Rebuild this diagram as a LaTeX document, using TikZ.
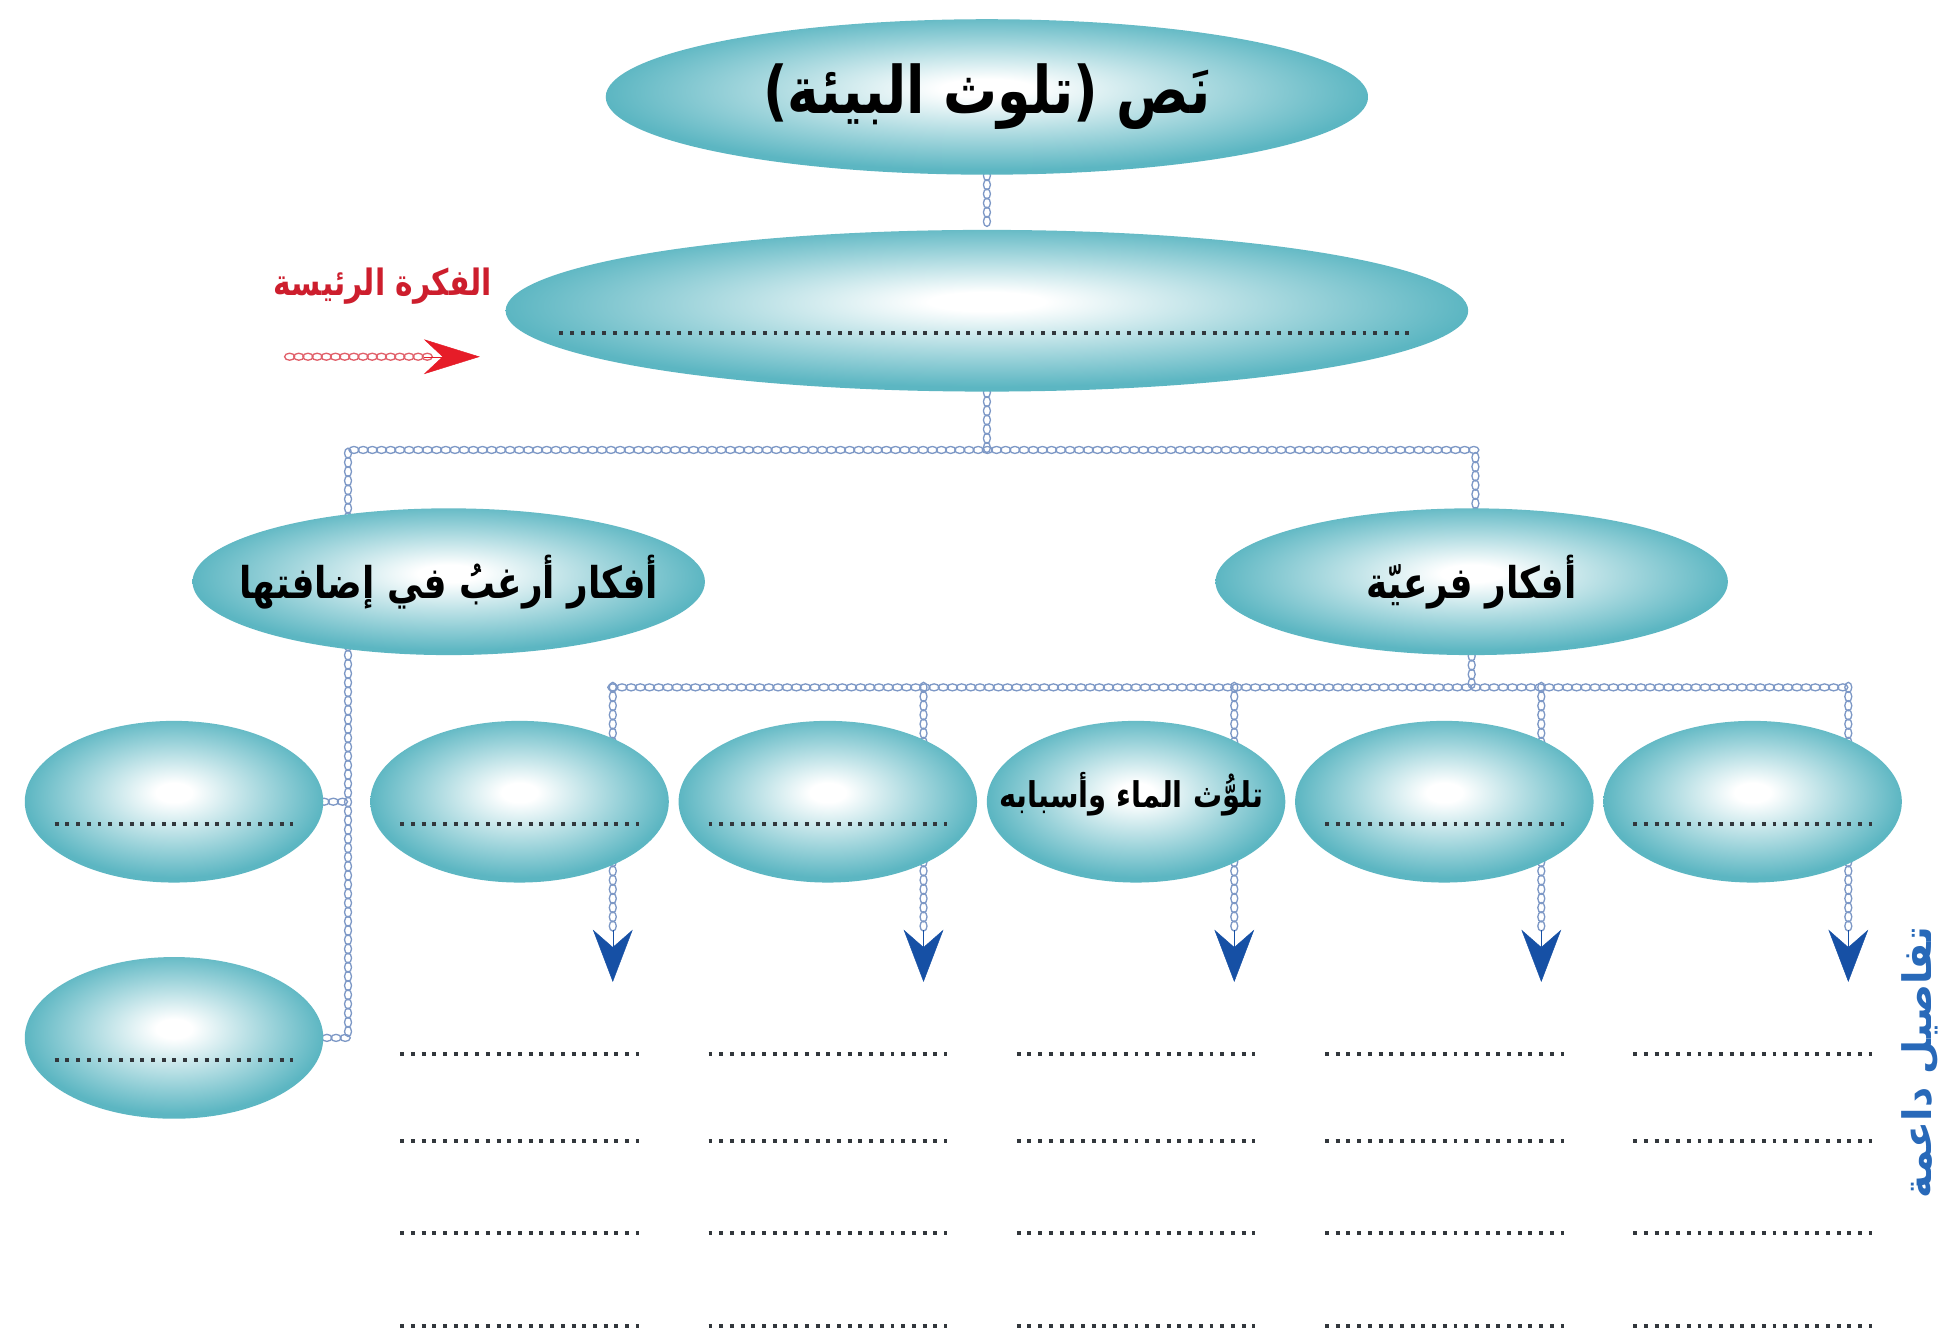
\documentclass[tikz,border=0pt]{standalone}
\usepackage{fontspec}
\usetikzlibrary{shapes.geometric,decorations.markings,arrows.meta,calc}
\TeXXeTstate=1
\newfontfamily\arabicfont[Script=Arabic, FakeStretch=0.82]{DejaVu Sans}
\newfontfamily\arabicplain[Script=Arabic]{DejaVu Sans}
\definecolor{ovaledge}{RGB}{92,182,194}
\definecolor{ovalmid}{RGB}{158,212,219}
\definecolor{chainblue}{RGB}{125,152,198}
\definecolor{chainred}{RGB}{225,95,105}
\definecolor{headred}{RGB}{230,28,40}
\definecolor{headblue}{RGB}{22,80,165}
\definecolor{labelblue}{RGB}{40,105,185}
\definecolor{labelred}{RGB}{205,30,45}
\definecolor{dotgray}{RGB}{50,55,60}
\pgfdeclareradialshading{ovalshade}{\pgfpoint{0bp}{3bp}}{color(0bp)=(white); color(3bp)=(white); color(16bp)=(ovalmid); color(25bp)=(ovaledge); color(50bp)=(ovaledge)}
\pgfdeclarelayer{background}
\pgfsetlayers{background,main}
\newcommand\ttlfont{\arabicfont\bfseries\fontsize{15}{17}\selectfont}
\newcommand\midfont{\arabicfont\bfseries\fontsize{10}{12}\selectfont}
\newcommand\smlfont{\arabicfont\bfseries\fontsize{8.1}{10}\selectfont}
\newcommand\redfont{\arabicfont\bfseries\fontsize{8.3}{10}\selectfont}
\newcommand\sidefont{\arabicplain\bfseries\fontsize{9}{11}\selectfont}
\tikzset{
  oval/.style={ellipse, inner sep=0pt, shading=ovalshade, draw=none},
  bigoval/.style={oval, minimum width=2.4cm, minimum height=1.3cm},
  ovaltext/.style={inner sep=0pt, text=black},
  chain/.style={decoration={markings, mark=between positions 0 and 1 step 2.1pt with {\draw[#1, line width=0.3pt] (0,0) ellipse (1.15pt and 0.8pt);}}, decorate},
  chain/.default=chainblue,
  dotline/.style={draw=dotgray, line width=0.9pt, dash pattern=on 0.9pt off 1.55pt},
  bluehead/.style={draw=headblue, line width=0.1pt, -{Stealth[length=0.42cm, width=0.32cm, inset=0.14cm, fill=headblue]}},
  redhead/.style={draw=headred, line width=0.1pt, -{Stealth[length=0.45cm, width=0.28cm, inset=0.15cm, fill=headred]}},
}
\begin{document}
\begin{tikzpicture}[x=0.01cm, y=-0.01cm]
\useasboundingbox (0,0) rectangle (1568,1076);
% ovals
\node[oval, minimum width=6.13cm, minimum height=1.25cm] (top) at (794,78) {};
\node[oval, minimum width=7.74cm, minimum height=1.30cm] (main) at (794,250) {};
\node[oval, minimum width=4.12cm, minimum height=1.18cm] (want) at (361,468) {};
\node[oval, minimum width=4.12cm, minimum height=1.18cm] (sub) at (1184,468) {};
\node[bigoval] (r1) at (418,645) {};
\node[bigoval] (r2) at (666,645) {};
\node[bigoval] (r3) at (914,645) {};
\node[bigoval] (r4) at (1162,645) {};
\node[bigoval] (r5) at (1410,645) {};
\node[bigoval] (l1) at (140,645) {};
\node[bigoval] (l2) at (140,835) {};
% texts
\node[ovaltext, font=\ttlfont] (toptext) at (top) {\beginR نَص (تلوث البيئة)\endR};
\node[ovaltext, font=\midfont] (wanttext) at (want) {\beginR أفكار أرغبُ في إضافتها\endR};
\node[ovaltext, font=\midfont] (subtext) at (sub) {\beginR أفكار فرعيّة\endR};
\node[ovaltext, font=\smlfont] (r3text) at ($(r3.center)+(-4,-6)$) {\beginR تلوُّث الماء وأسبابه\endR};
\node[text=labelred, font=\redfont] (idea) at (308,230) {\beginR الفكرة الرئيسة\endR};
\node[text=labelblue, font=\sidefont, rotate=90] (det) at (1545,855) {\beginR تفاصيل داعمة\endR};
% dotted answer lines
\draw[dotline] (450,268) -- (1138,268);
\foreach \n in {r1,r2,r4,r5,l1,l2}{
  \draw[dotline] ($(\n.center)+(-96,18)$) -- ($(\n.center)+(96,18)$);
}
\foreach \x in {418,666,914,1162,1410}{
  \foreach \y in {848,918,992,1067}{
    \draw[dotline] (\x-96,\y) -- (\x+96,\y);
  }
}
% connectors
\coordinate (busA) at (794,362);
\coordinate (busAL) at (280,362);
\coordinate (busAR) at (1187,362);
\coordinate (busB) at (1184,553);
\coordinate (lvx) at (280,0);
\coordinate (ax) at (233,287);
\coordinate (ay) at (345,287);
\coordinate (az) at (386,287);
\coordinate (bl) at (493,553);
\coordinate (br) at (1487,553);
\begin{pgfonlayer}{background}
\fill[white] (0,0) rectangle (1568,1076);
\path[chain] (top.south) -- (main.north);
\path[chain] (main.south) -- (busA);
\path[chain] (want.center -| busAL) -- (busAL) -- (busAR) -- (sub.center -| busAR);
\path[chain] (sub.south) -- (busB);
\path[chain] (bl) -- (br);
\foreach \n/\x in {1/493,2/743,3/993,4/1240,5/1487}{
  \coordinate (d\n) at (\x,553);
  \coordinate (s\n) at (\x,752);
  \coordinate (t\n) at (\x,790);
  \path[chain] (d\n) -- (s\n);
}
\path[chain] (want.center -| lvx) -- (l2.east -| lvx) -- (l2.east);
\path[chain] (l1.east) -- (l1.east -| lvx);
\path[chain=chainred] (ax) -- (ay);
\end{pgfonlayer}
\foreach \n in {1,...,5}{
  \draw[bluehead] ($(t\n)+(0,-42)$) -- (t\n);
}
\draw[redhead] ($(az)+(-45,0)$) -- (az);
\end{tikzpicture}
\end{document}
